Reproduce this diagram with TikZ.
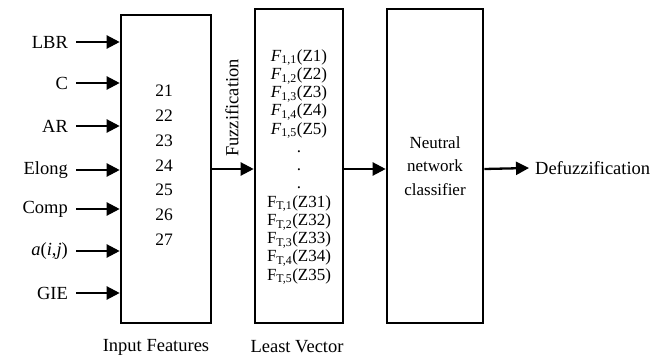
\documentclass[tikz,border=0pt]{standalone}
\usepackage{fontspec}
\setmainfont{Liberation Serif}
\usetikzlibrary{arrows.meta,positioning}

\begin{document}
\begin{tikzpicture}[x=1pt,y=-1pt,>={Triangle[length=13pt,width=13pt]},
                    line width=2.3pt,font=\fontsize{18.5}{20}\selectfont]
  \tikzset{block/.style={draw,line width=2.6pt,minimum width=#1},
           inner/.style={font=\fontsize{17}{18.25}\selectfont,align=center}}
  \useasboundingbox (0,0) rectangle (668,358);

  \node[block=90pt,minimum height=308pt] (inbox)  at (166,169) {};
  \node[block=88pt,minimum height=314pt] (vecbox) at (299,166) {};
  \node[block=96pt,minimum height=314pt] (netbox) at (435,166) {};

  % input features
  \foreach \name/\txt/\y in {lbr/LBR/42, c/C/83, ar/AR/126, elong/Elong/170,
                             comp/Comp/209, aij/{\textit{a}(\textit{i},\textit{j})}/251, gie/GIE/293}{
    \node[anchor=east,inner sep=0pt] (\name) at (69,\y) {\txt};
    \draw[->] ([xshift=7pt]\name.east) -- (\name.east -| inbox.west);
  }
  \foreach \n [count=\i] in {21,...,27}
    \node[font=\fontsize{17.5}{20}\selectfont] (n\i) at (164,{91+(\i-1)*24.8}) {\n};

  % least vector
  \node[inner] (vec) at (299,167) {\textit{F}\textsubscript{1,1}(Z1)\\
    \textit{F}\textsubscript{1,2}(Z2)\\ \textit{F}\textsubscript{1,3}(Z3)\\
    \textit{F}\textsubscript{1,4}(Z4)\\ \textit{F}\textsubscript{1,5}(Z5)\\
    .\\ .\\ .\\
    F\textsubscript{T,1}(Z31)\\ F\textsubscript{T,2}(Z32)\\ F\textsubscript{T,3}(Z33)\\
    F\textsubscript{T,4}(Z34)\\ F\textsubscript{T,5}(Z35)};

  \node[inner,font=\fontsize{17}{23.5}\selectfont] (net) at (netbox) {Neutral\\ network\\ classifier};

  \node[rotate=90] (fuzz) at (232,108) {Fuzzification};
  \node[anchor=west,inner sep=0pt] (defuzz) at (534,168) {Defuzzification};

  \draw[->] (inbox.east) -- (vecbox.west |- inbox.east);
  \draw[->] (vecbox.east |- inbox.east) -- (netbox.west |- inbox.east);
  \draw[->] (netbox.east |- inbox.east) -- ([xshift=-5pt]defuzz.west);

  \node (incap)  at (156,347) {Input Features};
  \node (veccap) at (297,347) {Least Vector};
\end{tikzpicture}
\end{document}
